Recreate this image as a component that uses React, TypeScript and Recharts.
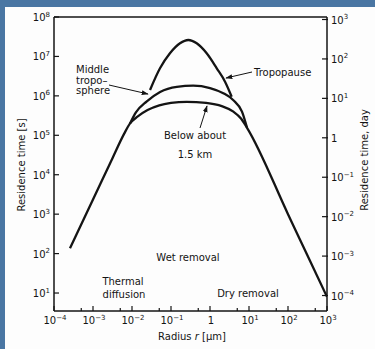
import React from 'react';
import { LineChart, Line, XAxis, YAxis, ReferenceLine } from 'recharts';

// Radius r [µm] vs residence time [s]
const belowData = [
  { r: 2.57e-4, t: 136 },
  { r: 1.0e-3, t: 2.34e3 },
  { r: 3.16e-3, t: 2.63e4 },
  { r: 6.31e-3, t: 1.1e5 },
  { r: 8.91e-3, t: 2.0e5 },
  { r: 1.41e-2, t: 3.02e5 },
  { r: 2.51e-2, t: 4.37e5 },
  { r: 5.01e-2, t: 5.75e5 },
  { r: 0.1, t: 6.61e5 },
  { r: 0.251, t: 7.08e5 },
  { r: 0.794, t: 6.61e5 },
  { r: 2.0, t: 5.5e5 },
  { r: 3.98, t: 3.98e5 },
  { r: 6.31, t: 2.63e5 },
  { r: 8.91, t: 1.55e5 },
  { r: 100, t: 1.0e3 },
  { r: 316, t: 89 },
  { r: 1000, t: 8 },
];

const middleData = [
  { r: 8.91e-3, t: 2.0e5 },
  { r: 1.26e-2, t: 3.8e5 },
  { r: 2.4e-2, t: 7.24e5 },
  { r: 5.25e-2, t: 1.26e6 },
  { r: 0.141, t: 1.7e6 },
  { r: 0.372, t: 1.82e6 },
  { r: 1.0, t: 1.58e6 },
  { r: 2.19, t: 1.17e6 },
  { r: 3.98, t: 7.76e5 },
  { r: 6.61, t: 3.98e5 },
  { r: 8.91, t: 1.55e5 },
];

const tropopauseData = [
  { r: 2.9e-2, t: 1.41e6 },
  { r: 5.22e-2, t: 5.0e6 },
  { r: 9.4e-2, t: 1.2e7 },
  { r: 0.17, t: 2.15e7 },
  { r: 0.278, t: 2.61e7 },
  { r: 0.456, t: 2.15e7 },
  { r: 0.822, t: 1.2e7 },
  { r: 1.49, t: 5.0e6 },
  { r: 2.43, t: 2.29e6 },
  { r: 3.6, t: 9.5e5 },
];

const xMajorTicks = [1e-4, 1e-3, 1e-2, 1e-1, 1, 10, 100, 1000];
const xMinorTicks = [5e-4, 5e-3, 5e-2, 0.5, 5, 50, 500];
const ySecondsTicks = [10, 100, 1e3, 1e4, 1e5, 1e6, 1e7, 1e8];
const yDayTicks = [1e-4, 1e-3, 1e-2, 1e-1, 1, 10, 100, 1000];
const SECONDS_PER_DAY = 86400;
const yDomainSeconds = [3.5, 1e8];

const FONT = '"DejaVu Sans", sans-serif';
const INK = '#141414';

const expOf = (v: number) => Math.round(Math.log10(v));

const Pow = ({ v }: { v: number }) => {
  const e = expOf(v);
  if (e === 0) return <>1</>;
  return (
    <>
      10
      <tspan dy={-4.5} fontSize={7}>
        {e < 0 ? '\u2212' + Math.abs(e) : String(e)}
      </tspan>
    </>
  );
};

const XTick = (props: any) => {
  const { x, y, payload } = props;
  const v = payload.value;
  const isMajor = xMajorTicks.some((m) => Math.abs(Math.log10(m) - Math.log10(v)) < 1e-6);
  return (
    <g>
      <line x1={x} x2={x} y1={y} y2={y - (isMajor ? 5 : 3)} stroke={INK} strokeWidth={1.2} />
      {isMajor && (
        <text x={x + 1} y={y + 13} textAnchor="middle" fontFamily={FONT} fontSize={10} fill={INK}>
          <Pow v={v} />
        </text>
      )}
    </g>
  );
};

const LeftTick = (props: any) => {
  const { x, y, payload } = props;
  return (
    <g>
      <line x1={x} x2={x + 5} y1={y} y2={y} stroke={INK} strokeWidth={1.2} />
      <text x={x - 4} y={y + 4} textAnchor="end" fontFamily={FONT} fontSize={10} fill={INK}>
        <Pow v={payload.value} />
      </text>
    </g>
  );
};

const RightTick = (props: any) => {
  const { x, y, payload } = props;
  return (
    <g>
      <line x1={x - 5} x2={x + 1} y1={y} y2={y} stroke={INK} strokeWidth={1.2} />
      <text x={x + 4} y={y + 4} textAnchor="start" fontFamily={FONT} fontSize={10} fill={INK}>
        <Pow v={payload.value} />
      </text>
    </g>
  );
};

const Annotations = () => (
  <svg
    width={375}
    height={349}
    style={{ position: 'absolute', left: 0, top: 0, pointerEvents: 'none' }}
    fontFamily={FONT}
    fontSize={10}
    fill={INK}
  >
    <defs>
      <marker id="ah" viewBox="0 0 10 10" refX="9" refY="5" markerWidth="7" markerHeight="7" orient="auto">
        <path d="M0,1.5 L10,5 L0,8.5 z" fill={INK} />
      </marker>
    </defs>
    <text x={76} y={73}>Middle</text>
    <text x={76} y={84}>tropo–</text>
    <text x={76} y={94}>sphere</text>
    <line x1={109} y1={85} x2={148} y2={94} stroke={INK} strokeWidth={1} markerEnd="url(#ah)" />
    <text x={254} y={75.5}>Tropopause</text>
    <line x1={252} y1={72} x2={226} y2={78} stroke={INK} strokeWidth={1} markerEnd="url(#ah)" />
    <text x={195} y={138.5} textAnchor="middle">Below about</text>
    <text x={195} y={158} textAnchor="middle">1.5 km</text>
    <line x1={200} y1={128} x2={207} y2={106} stroke={INK} strokeWidth={1} markerEnd="url(#ah)" />
    <text x={188} y={261} textAnchor="middle">Wet removal</text>
    <text x={123} y={285} textAnchor="middle">Thermal</text>
    <text x={124} y={297.5} textAnchor="middle">diffusion</text>
    <text x={248} y={297} textAnchor="middle">Dry removal</text>
    <text x={192} y={340} textAnchor="middle">
      Radius <tspan fontStyle="italic">r</tspan> [µm]
    </text>
    <text x={0} y={0} textAnchor="middle" transform="translate(25 165) rotate(-90)">
      Residence time [s]
    </text>
    <text x={0} y={0} textAnchor="middle" transform="translate(368 160) rotate(-90)">
      Residence time, day
    </text>
  </svg>
);

export default function App() {
  return (
    <div
      style={{
        position: 'fixed',
        left: 0,
        top: 0,
        width: 375,
        height: 349,
        background: '#4a76a3',
        overflow: 'hidden',
      }}
    >
      <div style={{ position: 'absolute', left: 5, top: 7, right: 0, bottom: 0, background: '#fdfdfd' }} />
      <div style={{ position: 'absolute', left: 0, top: 0 }}>
        <LineChart width={375} height={349} margin={{ top: 17, right: 0, bottom: 0, left: 0 }}>
          <XAxis
            dataKey="r"
            type="number"
            scale="log"
            domain={[1e-4, 1e3]}
            ticks={[...xMajorTicks, ...xMinorTicks].sort((a, b) => a - b)}
            allowDataOverflow
            height={38}
            tickSize={0}
            tickMargin={0}
            tickLine={false}
            tick={<XTick />}
            interval={0}
            axisLine={{ stroke: INK, strokeWidth: 1.5 }}
          />
          <YAxis
            yAxisId="left"
            dataKey="t"
            type="number"
            scale="log"
            domain={yDomainSeconds}
            ticks={ySecondsTicks}
            allowDataOverflow
            width={54}
            tickSize={0}
            tickMargin={0}
            tickLine={false}
            tick={<LeftTick />}
            interval={0}
            axisLine={{ stroke: INK, strokeWidth: 1.5 }}
          />
          <YAxis
            yAxisId="right"
            orientation="right"
            type="number"
            scale="log"
            domain={[yDomainSeconds[0] / SECONDS_PER_DAY, yDomainSeconds[1] / SECONDS_PER_DAY]}
            ticks={yDayTicks}
            allowDataOverflow
            width={48}
            tickSize={0}
            tickMargin={0}
            tickLine={false}
            tick={<RightTick />}
            interval={0}
            axisLine={{ stroke: INK, strokeWidth: 1.5 }}
          />
          <ReferenceLine yAxisId="left" y={1e8} stroke={INK} strokeWidth={1.5} ifOverflow="extendDomain" />
          <Line
            yAxisId="left"
            data={belowData}
            dataKey="t"
            type="monotone"
            stroke={INK}
            strokeWidth={2.3}
            dot={false}
            isAnimationActive={false}
          />
          <Line
            yAxisId="left"
            data={middleData}
            dataKey="t"
            type="monotone"
            stroke={INK}
            strokeWidth={2.3}
            dot={false}
            isAnimationActive={false}
          />
          <Line
            yAxisId="left"
            data={tropopauseData}
            dataKey="t"
            type="monotone"
            stroke={INK}
            strokeWidth={2.3}
            dot={false}
            isAnimationActive={false}
          />
        </LineChart>
      </div>
      <Annotations />
    </div>
  );
}
